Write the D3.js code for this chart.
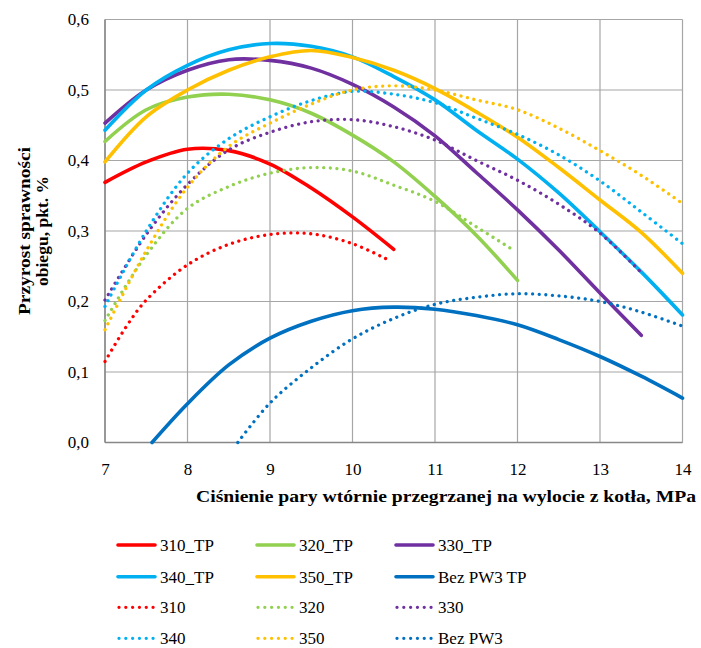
<!DOCTYPE html>
<html><head><meta charset="utf-8">
<script src="https://cdn.jsdelivr.net/npm/d3@7"></script>
<style>body{margin:0;background:#fff}svg{display:block}text{font-family:"Liberation Serif","Tinos","Nimbus Roman","Times New Roman","DejaVu Serif",serif;fill:#000}</style>
</head><body>
<svg id="c" width="701" height="648"></svg>
<script>
// ---- data ----
const xTicks = [7,8,9,10,11,12,13,14];
const yTicks = [0,0.1,0.2,0.3,0.4,0.5,0.6];
const yTickLabels = ["0,0","0,1","0,2","0,3","0,4","0,5","0,6"];

const x310TP = [7,7.5,8,8.5,9,9.5,10,10.5];
const y310TP = [0.369,0.398,0.416,0.414,0.395,0.361,0.320,0.274];
const x320TP = [7,7.5,8,8.5,9,9.5,10,10.5,11,11.5,12];
const y320TP = [0.427,0.472,0.490,0.494,0.486,0.467,0.436,0.398,0.349,0.294,0.230];
const x330TP = [7,7.5,8,8.5,9,9.5,10,10.5,11,11.5,12,12.5,13,13.5];
const y330TP = [0.453,0.500,0.528,0.543,0.542,0.531,0.508,0.476,0.435,0.383,0.330,0.273,0.212,0.152];
const x340TP = [7,7.5,8,8.5,9,9.5,10,10.5,11,11.5,12,12.5,13,13.5,14];
const y340TP = [0.443,0.500,0.535,0.557,0.566,0.562,0.547,0.519,0.486,0.443,0.402,0.354,0.299,0.242,0.181];
const x350TP = [7,7.5,8,8.5,9,9.5,10,10.5,11,11.5,12,12.5,13,13.5,14];
const y350TP = [0.398,0.462,0.500,0.528,0.547,0.556,0.546,0.528,0.502,0.469,0.433,0.390,0.344,0.298,0.240];
const xBezTP = [7.57,8,8.5,9,9.5,10,10.5,11,11.5,12,12.5,13,13.5,14];
const yBezTP = [0.0,0.055,0.110,0.148,0.172,0.187,0.192,0.189,0.180,0.167,0.146,0.122,0.094,0.063];

const x310 = [7,7.25,7.5,8,8.5,9,9.5,10,10.45];
const y310 = [0.115,0.163,0.202,0.252,0.281,0.295,0.296,0.282,0.258];
const x320 = [7,7.5,8,8.5,9,9.5,10,10.5,11,11.5,11.95];
const y320 = [0.173,0.266,0.332,0.363,0.382,0.390,0.385,0.365,0.342,0.306,0.273];
const x330 = [7,7.5,8,8.5,9,9.5,10,10.5,11,11.5,12,12.5,13,13.5];
const y330 = [0.202,0.295,0.366,0.415,0.440,0.455,0.458,0.448,0.429,0.400,0.372,0.338,0.297,0.241];
const x340 = [7,7.5,8,8.5,9,9.5,10,10.5,11,11.5,12,12.5,13,13.5,14];
const y340 = [0.193,0.300,0.382,0.431,0.462,0.485,0.498,0.494,0.482,0.460,0.437,0.408,0.371,0.327,0.282];
const x350 = [7,7.5,8,8.5,9,9.5,10,10.5,11,11.5,12,12.5,13,13.5,14];
const y350 = [0.160,0.272,0.362,0.420,0.453,0.480,0.500,0.506,0.500,0.486,0.472,0.446,0.414,0.379,0.339];
const xBez = [8.61,9,9.5,10,10.5,11,11.5,12,12.5,13,13.5,14];
const yBez = [0.0,0.056,0.106,0.147,0.176,0.196,0.206,0.211,0.208,0.200,0.185,0.165];

const seriesNames = ["310_TP","320_TP","330_TP","340_TP","350_TP","Bez PW3 TP","310","320","330","340","350","Bez PW3"];
const seriesColors = ["#FF0000","#92D050","#7030A0","#00B0F0","#FFC000","#0070C0","#FF0000","#92D050","#7030A0","#00B0F0","#FFC000","#0070C0"];
const seriesDotted = [false,false,false,false,false,false,true,true,true,true,true,true];
const seriesX = [x310TP,x320TP,x330TP,x340TP,x350TP,xBezTP,x310,x320,x330,x340,x350,xBez];
const seriesY = [y310TP,y320TP,y330TP,y340TP,y350TP,yBezTP,y310,y320,y330,y340,y350,yBez];

// ---- chart ----
const svg = d3.select("#c");
const L=105, R=682.5, T=19.5, B=442.5;
const x = d3.scaleLinear().domain([7,14]).range([L,R]);
const y = d3.scaleLinear().domain([0,0.6]).range([B,T]);

const grid = svg.append("g");
grid.selectAll("line.v").data(xTicks).join("line")
  .attr("x1",d=>x(d)).attr("x2",d=>x(d)).attr("y1",T).attr("y2",B)
  .attr("stroke","#A6A6A6").attr("stroke-width",1.2);
grid.selectAll("line.h").data(yTicks).join("line")
  .attr("y1",d=>y(d)).attr("y2",d=>y(d)).attr("x1",L).attr("x2",R)
  .attr("stroke","#A6A6A6").attr("stroke-width",1.2);
svg.append("line").attr("x1",L).attr("x2",L).attr("y1",T).attr("y2",B).attr("stroke","#878787").attr("stroke-width",1.5);
svg.append("line").attr("x1",L).attr("x2",R).attr("y1",B).attr("y2",B).attr("stroke","#878787").attr("stroke-width",1.5);

// axes (text only)
const yAxis = d3.axisLeft(y).tickValues(yTicks).tickFormat((d,i)=>yTickLabels[i]).tickSize(0).tickPadding(16);
const ya = svg.append("g").attr("transform",`translate(${L},0)`).call(yAxis);
ya.attr("font-family",null);
ya.select(".domain").remove();
ya.selectAll("text").attr("font-size","17px").attr("fill","#000");
const xAxis = d3.axisBottom(x).tickValues(xTicks).tickFormat(d=>d).tickSize(0).tickPadding(20);
const xa = svg.append("g").attr("transform",`translate(0,${B})`).call(xAxis);
xa.attr("font-family",null);
xa.select(".domain").remove();
xa.selectAll("text").attr("font-size","17px").attr("fill","#000");

// axis titles
svg.append("text").attr("x",196).attr("y",502).attr("font-weight","bold").attr("font-size","17px")
  .attr("textLength",500).attr("lengthAdjust","spacingAndGlyphs")
  .text("Ciśnienie pary wtórnie przegrzanej na wylocie z kotła, MPa");
const yt = svg.append("text").attr("transform","translate(0,231) rotate(-90)")
  .attr("text-anchor","middle").attr("font-weight","bold").attr("font-size","17px");
yt.append("tspan").attr("x",0).attr("y",30).attr("textLength",168).attr("lengthAdjust","spacingAndGlyphs").text("Przyrost sprawności");
yt.append("tspan").attr("x",0).attr("y",48).attr("textLength",110).attr("lengthAdjust","spacingAndGlyphs").text("obiegu, pkt. %");

// lines
const line = d3.line().curve(d3.curveCatmullRom.alpha(0.5)).x(d=>x(d[0])).y(d=>y(d[1]));
seriesNames.forEach((n,i)=>{
  const pts = seriesX[i].map((v,j)=>[v,seriesY[i][j]]);
  const p = svg.append("path").attr("d",line(pts)).attr("fill","none")
    .attr("stroke",seriesColors[i]);
  if(seriesDotted[i]) p.attr("stroke-width",3.3).attr("stroke-dasharray","0.01 6.6").attr("stroke-linecap","round");
  else p.attr("stroke-width",3.6).attr("stroke-linecap","round");
});

// legend
const colX = [118,257,396];
const rowY = [545,576.7,607.3,638.3];
seriesNames.forEach((n,i)=>{
  const cx = colX[i%3], cy = rowY[Math.floor(i/3)];
  const l = svg.append("line").attr("x1",cx).attr("x2",cx+37).attr("y1",cy).attr("y2",cy)
    .attr("stroke",seriesColors[i]);
  if(seriesDotted[i]) l.attr("x1",cx+1).attr("stroke-width",3.3).attr("stroke-dasharray","0.01 6.8").attr("stroke-linecap","round");
  else l.attr("stroke-width",3.6).attr("stroke-linecap","round");
  svg.append("text").attr("x",cx+42).attr("y",cy+6).attr("font-size","17px").text(n);
});
</script>
</body></html>
